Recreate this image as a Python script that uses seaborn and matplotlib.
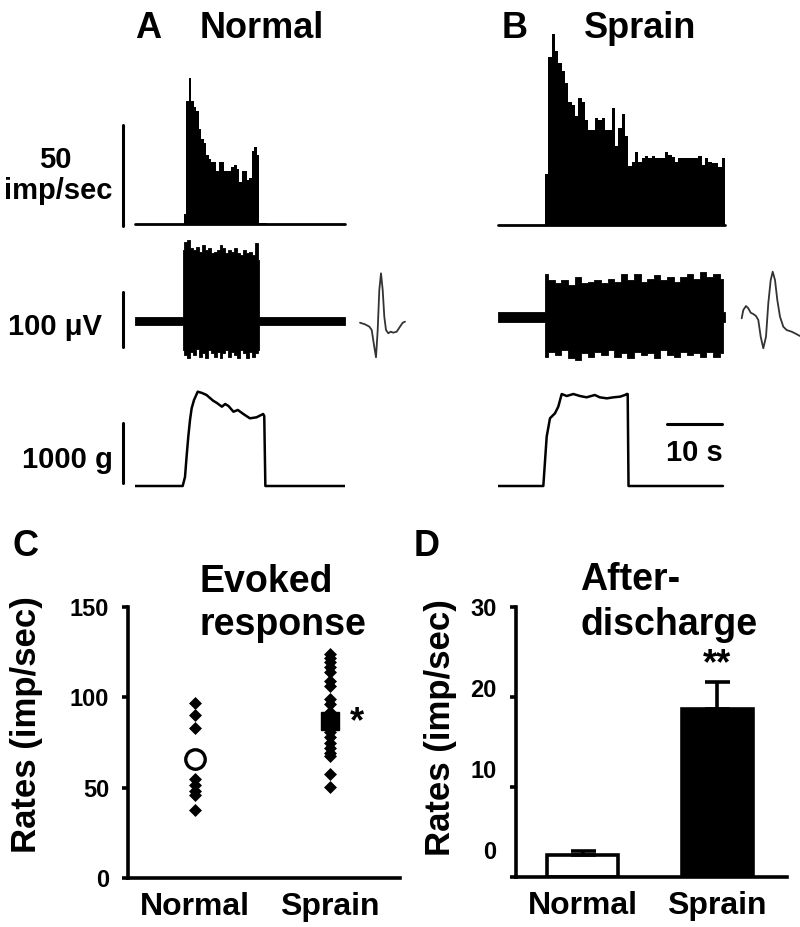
import numpy as np
import pandas as pd
import matplotlib
matplotlib.use("Agg")
import matplotlib.pyplot as plt
import seaborn as sns

W, H = 800, 927
PX_PER_S = 5.5          # horizontal scale of the recordings (10 s = 55 px)

# ─────────────────────────────────────────────
# Data
# ─────────────────────────────────────────────
# PSTH (imp/sec), A: normal, B: sprain
psth_a_onset, psth_a_bin = 8.9, 0.455
psth_a_rates = [5, 62, 73.5, 62, 59, 57, 48, 43, 41, 35, 33, 31.5, 31.5, 27, 31.5,
                31.5, 27, 26.7, 26.7, 29, 30, 28, 21, 26.7, 27, 22, 23, 37, 38.7,
                35, 0.7, 0.7, 0.7]
psth_b_onset, psth_b_bin = 8.55, 0.606
psth_b_rates = [26, 85, 96.5, 88, 81.6, 78, 71.5, 62, 60.6, 55, 64, 62, 53, 48, 48,
                54, 53, 54, 48, 48, 59, 40, 49, 56, 45, 30, 32, 37, 32, 33.7, 35,
                33.7, 35, 33.7, 33.7, 33.7, 37, 35.4, 34.5, 32, 33.7, 33.7, 33.7,
                33.7, 33.7, 33.7, 35, 30.3, 33.7, 32, 31.5, 31.5, 29.5, 33.7]

# raw nerve recording envelope (uV): baseline noise, burst upper / lower edge
raw_noise_a, raw_noise_b = 8, 9
raw_a_on, raw_a_off, raw_a_end = 8.73, 22.55, 38.2
raw_a_top = [129, 144, 147, 133, 129, 135, 126, 138, 129, 132, 123, 126, 129, 138,
             132, 123, 129, 126, 132, 123, 120, 129, 123, 126, 120, 141, 111]
raw_a_bot = [-53, -62, -68, -56, -62, -50, -65, -59, -68, -53, -59, -65, -56, -68,
             -59, -53, -65, -56, -62, -68, -53, -59, -68, -56, -65, -59, -53]
raw_b_on, raw_b_off, raw_b_end = 8.55, 40.9, 41.3
raw_b_top = [79, 67, 61, 67, 58, 73, 61, 64, 67, 61, 70, 64, 79, 67, 79, 64, 70,
             76, 67, 73, 64, 73, 79, 70, 82, 73, 79, 70]
raw_b_bot = [-72, -63, -69, -60, -75, -78, -66, -72, -63, -69, -60, -72, -66, -75,
             -63, -69, -66, -75, -60, -69, -72, -63, -69, -66, -72, -63, -72, -66]

# averaged spike waveforms (ms, uV)
wave_a_t = [0, 0.25, 0.47, 0.585, 0.7, 0.8, 0.885, 0.965, 1.05, 1.135, 1.215, 1.3,
            1.415, 1.535, 1.665, 1.835, 2.0, 2.135, 2.25]
wave_a_v = [0.5, -2.4, -6.7, -12.7, -40, -62.4, -12.7, 60, 90.4, 60, 11.5, -12.7,
            -18.7, -15.8, -17.6, -15.8, -6.7, 0.5, 2.4]
wave_b_t = [0, 0.08, 0.215, 0.33, 0.45, 0.58, 0.715, 0.83, 0.95, 1.08, 1.215, 1.33,
            1.45, 1.55, 1.665, 1.78, 1.915, 2.08, 2.25, 2.5, 2.665, 2.915]
wave_b_v = [0, 15.1, 22.4, 18.2, 10.2, 7.8, 4.2, -3.1, -33.5, -54.5, -33.5, 27.3,
            69.6, 84.7, 69.6, 33.3, 2.9, -15.3, -21.3, -24.4, -27.3, -32.2]

# applied force (s, g)
force_a_t = [0, 8.67, 9.09, 9.39, 9.69, 10.0, 10.3, 10.73, 11.4, 12.2, 13.0, 14.2,
             14.9, 15.8, 16.4, 17.0, 17.9, 18.7, 19.7, 20.9, 22.1, 23.3, 23.5, 23.7,
             38.2]
force_a_g = [0, 0, 150, 500, 822, 1100, 1295, 1433, 1572, 1550, 1517, 1422, 1383,
             1322, 1367, 1333, 1238, 1267, 1200, 1128, 1145, 1200, 1167, 0, 0]
force_b_t = [0, 8.24, 8.85, 9.45, 10.36, 10.96, 11.58, 12.5, 13.7, 14.9, 16.1, 17.6,
             18.5, 19.8, 21.0, 22.2, 23.1, 23.4, 23.58, 23.73, 40.9]
force_b_g = [0, 0, 822, 1128, 1212, 1322, 1533, 1500, 1533, 1500, 1478, 1517, 1478,
             1461, 1478, 1489, 1517, 1533, 1533, 0, 0]

# panel C: evoked response (imp/sec)
groups = ["Normal", "Sprain"]
evoked_normal = [96.9, 90.2, 82.8, 68, 63, 55, 51.3, 48, 45.7, 37.6]
evoked_sprain = [124, 121.7, 119.4, 116.7, 113.9, 109.3, 106.5, 99, 96.3, 91.7,
                 88.9, 86.1, 83.3, 80.6, 77.8, 75, 72.2, 69.4, 67.6, 57.4, 50.6]
evoked_mean = [66, 87]

# panel D: afterdischarge (imp/sec, mean + SEM)
after_mean = [2.4, 18.7]
after_sem = [0.5, 3.0]

# ─────────────────────────────────────────────
# Style
# ─────────────────────────────────────────────
sns.set_style("white")
plt.rcParams["font.family"] = ["Liberation Sans", "DejaVu Sans"]
plt.rcParams["font.weight"] = "bold"
for key in ("text.color", "axes.labelcolor", "xtick.color", "ytick.color"):
    plt.rcParams[key] = "black"

fig = plt.figure(figsize=(W / 100, H / 100), dpi=100)


def fig_text(x, y, s, **kw):
    fig.text(x / W, 1 - y / H, s, **kw)


def trace_axes(x0, x1, top, bottom, base, px_per_unit):
    ax = fig.add_axes([x0 / W, 1 - bottom / H, (x1 - x0) / W, (bottom - top) / H])
    ax.set_xlim(0, (x1 - x0) / PX_PER_S)
    ax.set_ylim(-(bottom - base) / px_per_unit, (base - top) / px_per_unit)
    ax.axis("off")
    return ax


def draw_psth(ax, onset, binw, rates):
    edges = onset + binw * np.arange(len(rates) + 1)
    df = pd.DataFrame({"t": 0.5 * (edges[:-1] + edges[1:]), "rate": rates})
    sns.histplot(data=df, x="t", weights="rate", bins=list(edges), element="step",
                 fill=True, color="black", alpha=1, linewidth=0, ax=ax)
    ax.axhline(0, color="black", lw=2, clip_on=False)
    ax.axis("off")


def draw_raw(ax, noise, on, off, end, top, bot):
    n = len(top)
    t = np.concatenate([[0, on], np.linspace(on, off, n), [off, end]])
    hi = np.concatenate([[noise, noise], top, [noise, noise]])
    lo = np.concatenate([[-noise, -noise], bot, [-noise, -noise]])
    ax.fill_between(t, lo, hi, step="mid", color="black", lw=0.6)


def draw_line(ax, t, y, lw, color="black"):
    sns.lineplot(x=t, y=y, sort=False, estimator=None, color=color, lw=lw, ax=ax)
    ax.axis("off")


# ─────────────────────────────────────────────
# Panels A / B: recordings
# ─────────────────────────────────────────────
ax = trace_axes(135, 345, 70, 232, 224, 1.98)
draw_psth(ax, psth_a_onset, psth_a_bin, psth_a_rates)
ax.set_xlim(0, 210 / PX_PER_S)
ax.set_ylim(-8 / 1.98, 154 / 1.98)
ax.plot([-12 / PX_PER_S] * 2, [-1, 50], color="black", lw=2.2, clip_on=False)

ax = trace_axes(498, 725, 30, 232, 225, 1.98)
draw_psth(ax, psth_b_onset, psth_b_bin, psth_b_rates)
ax.set_xlim(0, 227 / PX_PER_S)
ax.set_ylim(-7 / 1.98, 195 / 1.98)

ax = trace_axes(135, 345, 230, 370, 321, 0.55)
draw_raw(ax, raw_noise_a, raw_a_on, raw_a_off, raw_a_end, raw_a_top, raw_a_bot)
ax.plot([-12 / PX_PER_S] * 2, [-47, 53], color="black", lw=2.2, clip_on=False)

ax = trace_axes(498, 725, 230, 370, 317, 0.55)
draw_raw(ax, raw_noise_b, raw_b_on, raw_b_off, raw_b_end, raw_b_top, raw_b_bot)

ax = fig.add_axes([358 / W, 1 - 365 / H, 49 / W, 100 / H])
draw_line(ax, wave_a_t, wave_a_v, 1.3, "#333333")
ax.set_xlim(-0.1, 2.35)
ax.set_ylim(-76.4, 105.5)

ax = fig.add_axes([739 / W, 1 - 355 / H, 62 / W, 93 / H])
draw_line(ax, wave_b_t, wave_b_v, 1.3, "#333333")
ax.set_xlim(-0.135, 2.965)
ax.set_ylim(-66.7, 102.4)

ax = trace_axes(135, 345, 380, 495, 486, 0.06)
draw_line(ax, force_a_t, force_a_g, 1.8)
ax.set_xlim(0, 210 / PX_PER_S)
ax.set_ylim(-9 / 0.06, 106 / 0.06)
ax.plot([-12 / PX_PER_S] * 2, [50, 1050], color="black", lw=2.2, clip_on=False)

ax = trace_axes(498, 725, 380, 495, 486, 0.06)
draw_line(ax, force_b_t, force_b_g, 1.8)
ax.set_xlim(0, 227 / PX_PER_S)
ax.set_ylim(-9 / 0.06, 106 / 0.06)
ax.plot([30.7, 40.7], [1033, 1033], color="black", lw=2.2, clip_on=False)
ax.text(35.7, 550, "10 s", ha="center", va="center", fontsize=21, fontweight="bold")

fig_text(135, 38, "A", fontsize=26, va="baseline")
fig_text(200, 38, "Normal", fontsize=26, va="baseline")
fig_text(502, 38, "B", fontsize=26, va="baseline")
fig_text(584, 38, "Sprain", fontsize=26, va="baseline")
fig_text(55, 168, "50", fontsize=21, ha="center", va="baseline")
fig_text(58, 199, "imp/sec", fontsize=21, ha="center", va="baseline")
fig_text(8, 335, "100 \u03bcV", fontsize=21, va="baseline")
fig_text(113, 468, "1000 g", fontsize=21, ha="right", va="baseline")

# ─────────────────────────────────────────────
# Panels C / D: group data
# ─────────────────────────────────────────────
def style_axes(ax, top):
    sns.despine(ax=ax)
    for side in ("left", "bottom"):
        ax.spines[side].set_linewidth(2.6)
        ax.spines[side].set_color("black")
    ax.set_xlim(-0.496, 1.519)
    ax.set_ylim(0, top)
    ax.set_xlabel("")
    ax.set_ylabel("")
    ax.tick_params(axis="y", which="major", direction="out", length=4.5, width=2.6,
                   color="black", left=True)
    ax.tick_params(axis="x", length=0, pad=10, labelsize=23)


axC = fig.add_axes([128 / W, 1 - 878 / H, 272 / W, 271 / H])
df_c = pd.DataFrame({
    "group": ["Normal"] * len(evoked_normal) + ["Sprain"] * len(evoked_sprain),
    "rate": evoked_normal + evoked_sprain,
})
sns.stripplot(data=df_c, x="group", y="rate", order=groups, jitter=False,
              marker="D", color="black", size=6.6, linewidth=0, ax=axC)
axC.plot(0, evoked_mean[0], "o", ms=14, mfc="white", mec="black", mew=2.4, zorder=5)
axC.plot(1, evoked_mean[1], "s", ms=13.5, mfc="black", mec="black", zorder=5)
style_axes(axC, 150)
axC.set_yticks([0, 50, 100, 150])
axC.set_yticklabels(["0", "50", "100", "150"], fontsize=17)
axC.tick_params(axis="y", pad=9)
axC.text(1.2, 86, "*", ha="center", va="center", fontsize=26, fontweight="bold")

axD = fig.add_axes([516 / W, 1 - 877 / H, 271 / W, 270 / H])
sns.barplot(x=groups, y=after_mean, hue=groups, palette=["white", "black"],
            edgecolor="black", linewidth=2.6, width=0.526, legend=False, ax=axD)
axD.errorbar(range(len(groups)), after_mean, yerr=[[0, 0], after_sem], fmt="none",
             ecolor="black", elinewidth=2.6, capsize=9, capthick=2.6, zorder=1)
style_axes(axD, 30)
axD.set_yticks([0, 10, 20, 30])
axD.set_yticklabels([])
# tick labels sit slightly above their ticks in the original
axD.yaxis.remove_overlapping_locs = False
axD.set_yticks([3, 12, 21, 30], labels=["0", "10", "20", "30"], minor=True)
axD.tick_params(axis="y", which="minor", length=0, pad=14, labelsize=17)
axD.text(1, 23.6, "**", ha="center", va="center", fontsize=26, fontweight="bold")

fig_text(26, 546, "C", fontsize=26, ha="center", va="center")
fig_text(427, 546, "D", fontsize=26, ha="center", va="center")
fig_text(27, 725, "Rates (imp/sec)", fontsize=25, rotation=90, ha="center", va="center")
fig_text(440, 728, "Rates (imp/sec)", fontsize=25, rotation=90, ha="center", va="center")
fig_text(200, 592, "Evoked", fontsize=27, va="baseline")
fig_text(200, 635, "response", fontsize=27, va="baseline")
fig_text(580, 590, "After-", fontsize=27, va="baseline")
fig_text(580, 635, "discharge", fontsize=27, va="baseline")

fig.savefig("out.png", dpi=100)
